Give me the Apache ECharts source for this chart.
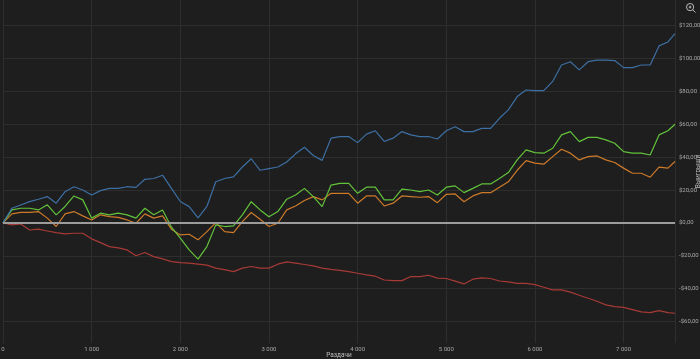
<!DOCTYPE html>
<html>
<head>
<meta charset="utf-8">
<script src="https://cdn.jsdelivr.net/npm/echarts@6/dist/echarts.min.js"></script>
<style>
html,body{margin:0;padding:0;background:#1e1e1e;}
#chart{width:700px;height:359px;}
</style>
</head>
<body>
<div id="chart"></div>
<script>
// Hands (x values)
const hands = [0,100,200,300,400,500,600,700,800,900,1000,1100,1200,1300,1400,1500,1600,1700,1800,1900,
2000,2100,2200,2300,2400,2500,2600,2700,2800,2900,3000,3100,3200,3300,3400,3500,3600,3700,3800,3900,
4000,4100,4200,4300,4400,4500,4600,4700,4800,4900,5000,5100,5200,5300,5400,5500,5600,5700,5800,5900,
6000,6100,6200,6300,6400,6500,6600,6700,6800,6900,7000,7100,7200,7300,7400,7500,7580];

const blueValues = [0,8.9,10.9,12.9,14.4,16,12,19,22,20,17,19.6,21,21,22,21.6,26.5,27,29,21,
13,9.9,3,10,25,27,28,34,39,32,33,34,37,42,46,41,38,51.5,52.5,52.5,
48.8,54,56,49.5,51.5,55.5,53.5,52.5,52.5,51,56,58.5,55.5,55.5,57.5,57.5,63.6,68.7,76.8,80.8,
80.4,80.4,86,96,98,93,98,99,99,98.7,94.4,94.4,96,96,107.6,110,115];

const greenValues = [0,7.9,8.9,8.9,7.9,11,4.9,10,16.4,14,2.9,5.9,4.9,5.9,4.9,2.9,8.9,4.9,7.9,-2.6,
-9.3,-16.4,-22,-14.4,-1.2,-2.2,-1.8,4.9,12.9,7.9,3.8,6.9,14.4,17,21,16,9.9,23,24,24,
18,21.7,21.7,14,14,20.5,20,19,20,17,21.7,22.5,18.4,21,23.7,23.7,27,30.6,38.3,44.4,
42.7,42.4,45.4,53.5,55.5,49.4,52,52,50.5,48.4,43.3,42.4,42.4,41.3,53.5,56,60];

const orangeValues = [0,5.5,6.4,6.4,6.9,2.9,-2.2,5.5,6.9,4.3,1.8,4.9,3.8,3.4,1.8,-0.2,5.5,2.9,4.3,-3.8,
-7.3,-6.9,-10.3,-5.3,0.2,-5.3,-5.9,0.8,6.3,2.2,-2.2,-0.2,7.9,10.3,13.6,16,14,18,18,18,
12,16.4,16.4,10.3,12,16.4,16,15.6,16,12.3,17.4,17.6,12.9,16.4,18.4,18.4,21.7,25,32,37.9,
36.3,35.7,40.3,44.8,42.4,38.3,40.3,40.7,38.3,36.7,33.3,30.2,30.2,27.8,33.9,33.3,37.3];

const redValues = [0,-1.2,-0.6,-4.3,-3.8,-4.9,-5.9,-6.7,-6.3,-6.3,-9.7,-12,-14.4,-15.2,-16.4,-20,-18,-20.5,-21.9,-23.5,
-24.1,-24.5,-25.1,-25.7,-27.5,-28.4,-29.6,-27.5,-26.5,-27.5,-27.5,-25.1,-23.7,-24.5,-25.3,-26.1,-27.5,-28.2,-28.8,-29.6,
-30.6,-31.6,-32.4,-34.7,-35.1,-35.1,-32.6,-32.6,-31.8,-33.6,-33.8,-35.4,-37.1,-34.2,-33.4,-33.8,-35.3,-35.9,-36.7,-36.7,
-37.5,-39.1,-40.7,-40.7,-42.1,-44,-45.8,-47.6,-49.8,-50.9,-51.3,-52.7,-54.1,-54.5,-53.3,-54.5,-54.9];

const yTicks = [-60,-40,-20,0,20,40,60,80,100,120];
const xTickInterval = 1000;

const colors = {blue:'#3d6fa3', green:'#62c23a', orange:'#cc7a2a', red:'#a63a36'};

function pairs(vals){ return hands.map((h,i)=>[h, vals[i]]); }

function fmtMoney(v){
  const a = Math.abs(v).toFixed(2).replace('.', ',');
  return (v < 0 ? '-$' : '$') + a;
}
function fmtHands(v){
  return String(Math.round(v)).replace(/\B(?=(\d{3})+(?!\d))/g, ' ');
}

const gridColor = '#2e2e2e';
const textColor = '#a8a8a8';

const chart = echarts.init(document.getElementById('chart'), null, {renderer:'canvas'});

function lineSeries(name, vals, color, extra){
  return Object.assign({
    name: name,
    type: 'line',
    data: pairs(vals),
    showSymbol: false,
    symbol: 'none',
    smooth: false,
    lineStyle: {color: color, width: 1.2},
    itemStyle: {color: color},
    animation: false,
    z: 3
  }, extra || {});
}

chart.setOption({
  backgroundColor: '#1e1e1e',
  animation: false,
  toolbox: {
    right: 2, top: 1, itemSize: 9, padding: 0,
    iconStyle: {borderColor: '#bbbbbb'},
    feature: {
      myZoom: {
        show: true, title: '',
        icon: 'path://M10,2 A8,8 0 1,0 10.01,2 Z M16,16 L22,22 M7,10 L13,10 M10,7 L10,13',
        onclick: function(){}
      }
    }
  },
  grid: {left: 3, right: 25, top: 0, bottom: 16, containLabel: false, outerBoundsMode: 'none'},
  xAxis: {
    type: 'value',
    min: 0,
    max: 'dataMax',
    interval: xTickInterval,
    name: 'Раздачи',
    nameLocation: 'middle',
    nameGap: 9,
    nameMoveOverlap: false,
    nameTextStyle: {color: '#bdbdbd', fontSize: 6.5, fontFamily: 'Roboto'},
    axisLine: {show: true, lineStyle: {color: gridColor, width: 1}},
    axisTick: {show: false},
    axisLabel: {color: textColor, fontSize: 6, fontFamily: 'Roboto', margin: 3, formatter: fmtHands, showMaxLabel: false},
    splitLine: {show: true, lineStyle: {color: gridColor, width: 1}}
  },
  yAxis: {
    type: 'value',
    position: 'right',
    min: -73,
    max: 135.5,
    name: 'Выигрыши',
    nameLocation: 'middle',
    nameGap: 20,
    nameRotate: 90,
    nameMoveOverlap: false,
    nameTextStyle: {color: '#bdbdbd', fontSize: 6.5, fontFamily: 'Roboto'},
    axisLine: {show: true, lineStyle: {color: gridColor, width: 1}},
    axisTick: {show: false, customValues: yTicks},
    axisLabel: {color: textColor, fontSize: 6, fontFamily: 'Roboto', margin: 4, customValues: yTicks, formatter: fmtMoney},
    splitLine: {show: true, lineStyle: {color: gridColor, width: 1}}
  },
  series: [
    lineSeries('Red', redValues, colors.red, {
      markLine: {
        silent: true,
        symbol: ['none','none'],
        label: {show: false},
        lineStyle: {color: '#9c9c9c', width: 2, type: 'solid'},
        data: [{yAxis: 0}],
        animation: false
      }
    }),
    lineSeries('Orange', orangeValues, colors.orange),
    lineSeries('Green', greenValues, colors.green),
    lineSeries('Blue', blueValues, colors.blue)
  ]
});
</script>
</body>
</html>
